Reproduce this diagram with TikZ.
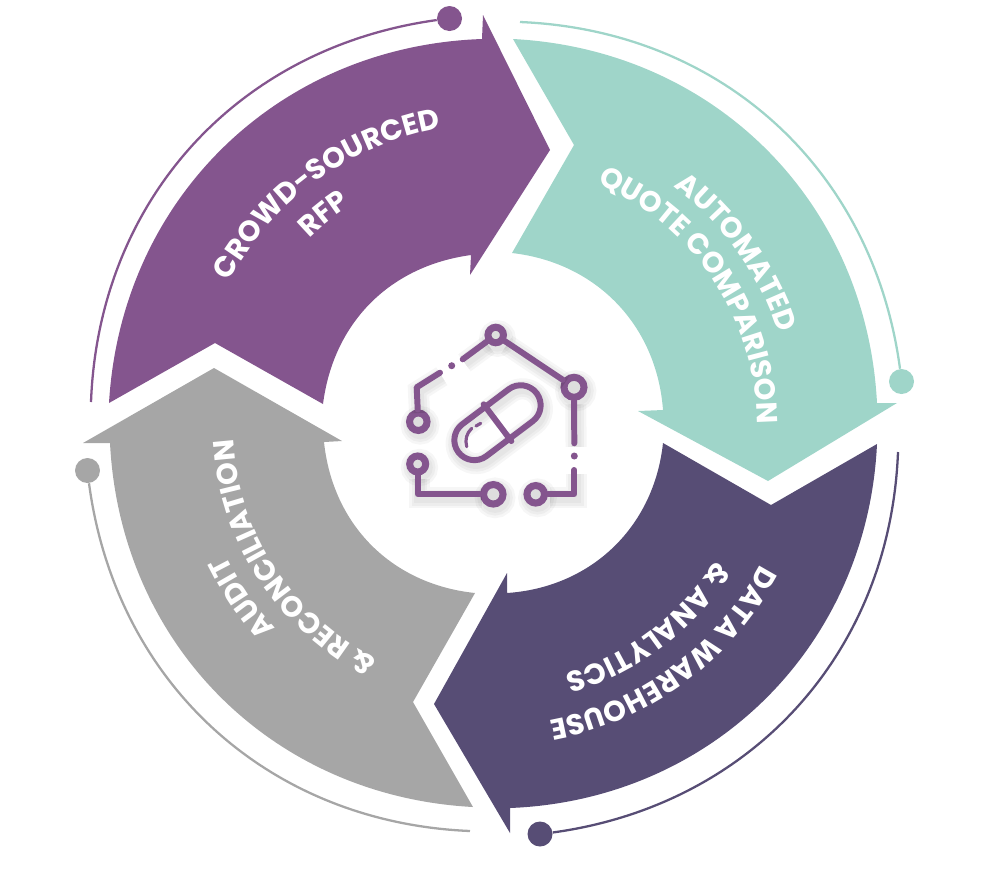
\documentclass[tikz,border=0pt]{standalone}
\usepackage{fontspec}
\setmainfont{Poppins}
\usetikzlibrary{decorations.text}
\definecolor{plum}{HTML}{84558E}
\definecolor{mint}{HTML}{9FD5C9}
\definecolor{ink}{HTML}{574D75}
\definecolor{ash}{HTML}{A6A6A6}
\newcommand{\lblfont}{\fontsize{16.5}{16.5}\selectfont\bfseries\color{white}}
\begin{document}
\begin{tikzpicture}[x=.02cm,y=-.02cm,
    curved/.style={decorate,decoration={text along path,text align=center,text={|\lblfont|#1}}},
    pin/.style={circle,fill=#1,inner sep=0pt,minimum size=.5cm},
    trail/.style={line width=1.3pt,draw=#1},
    soft/.style={preaction={draw=black,opacity=.035,line width=#1,transform canvas={xshift=1pt,yshift=-2pt}}},
    glow/.style={soft=6pt,soft=9pt,soft=12pt},
    ring/.style={circle,draw=plum,fill=black!13,line width=4pt,inner sep=0pt,minimum size=#1,glow},
    wire/.style={draw=plum,line width=3.4pt,line cap=round,line join=round}]
\useasboundingbox (0,0) rectangle (1000,870);

\fill[plum] (109,403) to[bend left=42.3] (482,39) -- (483,15) -- (550,150) -- (470,275) -- (471,255)
    to[bend right=37.5] (323,404) -- (215,343) -- cycle;
\fill[mint] (513,39) to[bend left=42] (877,403) -- (897,403) -- (768,481) -- (638,411) -- (663,410)
    to[bend right=39.6] (512,253) -- (574,145) -- cycle;
\fill[ink] (877,444) to[bend left=42.5] (510,808) -- (510,833) -- (434,704) -- (507,573) -- (507,593)
    to[bend right=40] (663,443) -- (771,505) -- cycle;
\fill[ash] (473,807) to[bend left=42] (110,443) -- (83,443) -- (214,368) -- (342,441) -- (324,442)
    to[bend right=39] (475,593) -- (413,702) -- cycle;

\node (dotP) at (449.5,18.5) [pin=plum] {};
\node (dotM) at (901.5,381.5) [pin=mint] {};
\node (dotI) at (540,834) [pin=ink] {};
\node (dotA) at (87.5,470.5) [pin=ash] {};
\coordinate (endP) at (91,402);
\coordinate (endM) at (520,22);
\coordinate (endI) at (898,452);
\coordinate (endA) at (470,831);
\draw[trail=plum] (endP) to[bend left=40] (dotP);
\draw[trail=mint] (endM) to[bend left=40] (dotM);
\draw[trail=ink] (endI) to[bend left=40] (dotI);
\draw[trail=ash] (endA) to[bend left=40] (dotA);

\begin{scope}[shift={(495,425)}]
\path[curved={CROWD-SOURCED}] (-171:302) arc[start angle=-171,end angle=-81,radius=302];
\path[curved={RFP}] (-174:263) arc[start angle=-174,end angle=-84,radius=263];
\path[curved={AUTOMATED}] (-80.6:298) arc[start angle=-80.6,end angle=9.4,radius=298];
\path[curved={QUOTE COMPARISON}] (-78.6:262) arc[start angle=-78.6,end angle=11.4,radius=262];
\path[curved={DATA WAREHOUSE}] (8.7:300) arc[start angle=8.7,end angle=98.7,radius=300];
\path[curved={{\&} ANALYTICS}] (8:258) arc[start angle=8,end angle=98,radius=258];
\path[curved={AUDIT}] (100.6:299) arc[start angle=100.6,end angle=190.6,radius=299];
\path[curved={{\&} RECONCILIATION}] (101.8:262) arc[start angle=101.8,end angle=191.8,radius=262];
\end{scope}

\node (top) at (495.7,335) [ring=.31cm] {};
\node (rgt) at (574,387.3) [ring=.4cm] {};
\node (lft) at (418.3,421.7) [ring=.35cm] {};
\node (low) at (417.7,464) [ring=.32cm] {};
\node (bot) at (493.3,494.3) [ring=.39cm] {};
\node (bnd) at (535.7,494.3) [ring=.35cm] {};
\node (pill) at (497.5,422.7) [draw=plum,line width=3.4pt,inner sep=0pt,minimum width=1.96cm,minimum height=.8cm,rounded corners=.4cm,rotate=37,glow] {};
\coordinate (gapA) at (462.7,359.3);
\coordinate (gapB) at (440,372.7);
\coordinate (gapC) at (574.3,443.3);
\coordinate (gapD) at (574.3,470);
\draw[wire,glow] (top) -- (rgt);
\draw[wire,glow] (top) -- (gapA);
\draw[wire,glow] (gapB) -- (416.7,387.3) -- (lft);
\draw[wire,glow] (rgt) -- (gapC);
\draw[wire,glow] (gapD) -- (574.3,494.3) -- (bnd);
\draw[wire,glow] (low) -- (417.7,494.3) -- (bot);
\draw[wire] (pill.north) -- (pill.south);
\draw[wire,line width=1.8pt] (471.7,428.3) to[bend right=30] (466.7,446.7);
\draw[wire,line width=1.8pt] (476,426) -- (480.7,423.3);
\fill[plum] (451.7,365.7) circle[radius=3.5];
\fill[plum] (574.3,456) circle[radius=3.5];
\end{tikzpicture}
\end{document}
